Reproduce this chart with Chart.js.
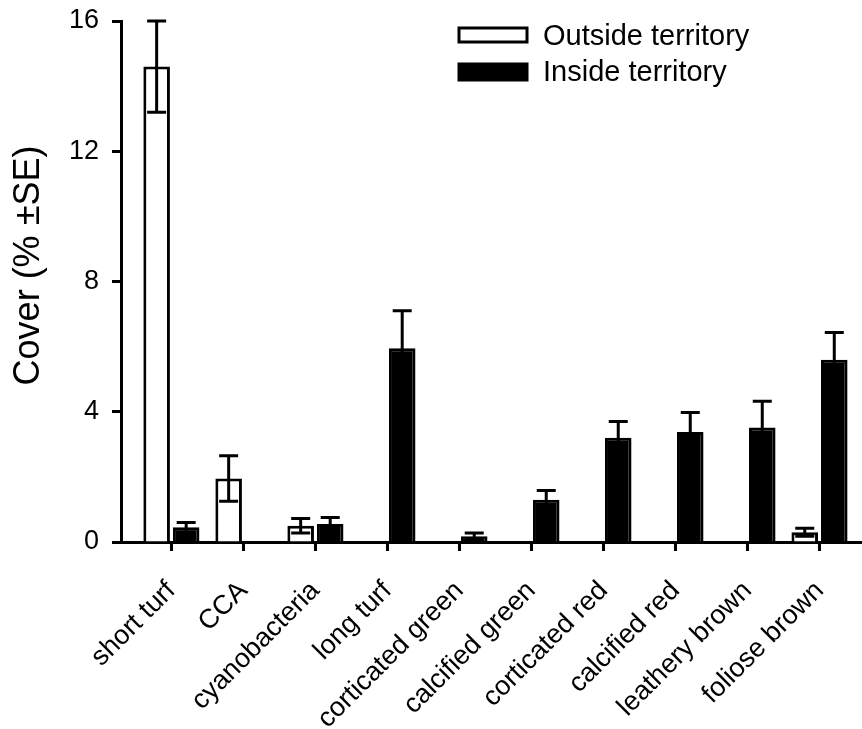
<!DOCTYPE html>
<html>
<head>
<meta charset="utf-8">
<script src="https://cdn.jsdelivr.net/npm/chart.js@4"></script>
<style>
  html, body { margin: 0; padding: 0; background: #fff; }
  #wrap { width: 862px; height: 729px; }
</style>
</head>
<body>
<div id="wrap"><canvas id="coverChart"></canvas></div>
<script>
// algal groups on the x axis
const categories = ['short turf', 'CCA', 'cyanobacteria', 'long turf', 'corticated green',
  'calcified green', 'corticated red', 'calcified red', 'leathery brown', 'foliose brown'];

// mean cover (%) and standard error, outside / inside territories
const outsideCover = [14.6, 1.95, 0.5, null, null, null, null, null, null, 0.3];
const outsideSE    = [1.4, 0.7, 0.22, null, null, null, null, null, null, 0.12];
const insideCover  = [0.45, null, 0.55, 5.95, 0.18, 1.3, 3.2, 3.38, 3.52, 5.6];
const insideSE     = [0.15, null, 0.2, 1.15, 0.1, 0.28, 0.5, 0.6, 0.8, 0.83];

const yTicks = [0, 4, 8, 12, 16];
const yTitle = 'Cover (% ±SE)';

const FONT = '"Liberation Sans", Arial, Helvetica, sans-serif';
const LINE = 3;

const toPoints = arr => arr.map((v, i) => ({ x: i, y: v }));

// vertical SE whiskers with caps, placed on each bar
const errorBars = {
  id: 'errorBars',
  afterDatasetsDraw(chart) {
    const ctx = chart.ctx;
    const yScale = chart.scales.y;
    ctx.save();
    ctx.strokeStyle = '#000';
    ctx.lineWidth = LINE;
    chart.data.datasets.forEach((ds, d) => {
      const meta = chart.getDatasetMeta(d);
      ds.se.forEach((se, i) => {
        const v = ds.data[i].y;
        if (v == null || se == null) return;
        const x = meta.data[i].x;
        const yTop = yScale.getPixelForValue(v + se);
        const yBot = yScale.getPixelForValue(Math.max(0, v - se));
        ctx.beginPath();
        ctx.moveTo(x, yTop); ctx.lineTo(x, yBot);
        ctx.moveTo(x - 9.5, yTop); ctx.lineTo(x + 9.5, yTop);
        ctx.moveTo(x - 9.5, yBot); ctx.lineTo(x + 9.5, yBot);
        ctx.stroke();
      });
    });
    ctx.restore();
  }
};

// legend in the upper right of the plot, plus the rotated y title
const boxLegend = {
  id: 'boxLegend',
  afterDraw(chart) {
    const ctx = chart.ctx;
    ctx.save();
    ctx.font = '29px ' + FONT;
    ctx.textBaseline = 'middle';
    ctx.textAlign = 'left';
    chart.data.datasets.forEach((ds, d) => {
      const top = 28 + d * 36;
      ctx.fillStyle = ds.backgroundColor;
      ctx.fillRect(459, top, 68, 14 + d * 2);
      ctx.strokeStyle = '#000';
      ctx.lineWidth = LINE;
      ctx.strokeRect(459, top, 68, 14 + d * 2);
      ctx.fillStyle = '#000';
      ctx.fillText(ds.label, 543, top + 9);
    });

    const area = chart.chartArea;
    ctx.translate(29, (area.top + area.bottom) / 2 - 16);
    ctx.rotate(-Math.PI / 2);
    ctx.font = '36px ' + FONT;
    ctx.textAlign = 'center';
    ctx.fillText(yTitle, 0, 0);
    ctx.restore();
  }
};

new Chart(document.getElementById('coverChart'), {
  type: 'bar',
  data: {
    datasets: [{
      label: 'Outside territory',
      data: toPoints(outsideCover),
      se: outsideSE,
      backgroundColor: '#fff',
      borderColor: '#000',
      borderWidth: LINE
    }, {
      label: 'Inside territory',
      data: toPoints(insideCover),
      se: insideSE,
      backgroundColor: '#000',
      borderColor: '#000',
      borderWidth: LINE
    }]
  },
  options: {
    responsive: true,
    maintainAspectRatio: false,
    animation: false,
    devicePixelRatio: 1,
    categoryPercentage: 0.82,
    barPercentage: 0.9,
    layout: { padding: { top: 21, right: 0, left: 0, bottom: 0 } },
    plugins: {
      legend: { display: false },
      tooltip: { enabled: false }
    },
    scales: {
      x: {
        type: 'linear',
        offset: false,
        min: -0.7,
        max: 9.59,
        afterBuildTicks: s => { s.ticks = categories.map((c, i) => ({ value: i })); },
        afterFit: s => { s.height = 187; s.paddingLeft = 0; s.paddingRight = 0; },
        grid: { offset: false, drawOnChartArea: false, tickLength: 9, tickWidth: LINE, tickColor: '#000' },
        border: { color: '#000', width: LINE },
        ticks: {
          autoSkip: false,
          minRotation: 45,
          maxRotation: 45,
          padding: 24,
          color: '#000',
          font: { family: FONT, size: 27 },
          callback: v => categories[v]
        }
      },
      y: {
        min: 0,
        max: 16,
        afterBuildTicks: s => { s.ticks = yTicks.map(v => ({ value: v })); },
        afterFit: s => { s.width = 121; s.paddingTop = 0; s.paddingBottom = 0; },
        grid: { drawOnChartArea: false, tickLength: 9, tickWidth: LINE, tickColor: '#000' },
        border: { color: '#000', width: LINE },
        ticks: {
          padding: 13,
          color: '#000',
          font: { family: FONT, size: 27 }
        }
      }
    }
  },
  plugins: [errorBars, boxLegend]
});
</script>
</body>
</html>
